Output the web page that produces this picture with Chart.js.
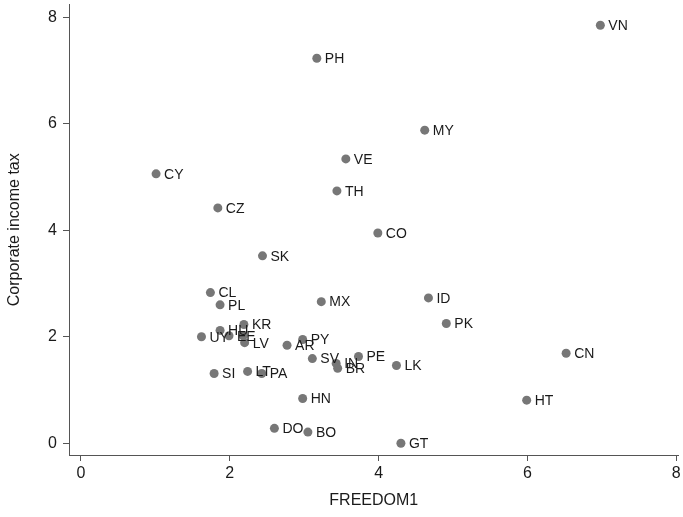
<!DOCTYPE html>
<html>
<head>
<meta charset="utf-8">
<script src="https://cdn.jsdelivr.net/npm/chart.js@4/dist/chart.umd.min.js"></script>
<style>
html,body{margin:0;padding:0;background:#fff;}
#wrap{width:683px;height:517px;position:relative;}
</style>
</head>
<body>
<div id="wrap"><canvas id="c" width="683" height="517"></canvas></div>
<script>
const countries = ["VN","PH","MY","VE","CY","TH","CZ","CO","SK","CL","PL","MX","ID","PK","KR","HU","EE","","UY","LV","PY","AR","SV","IN","BR","PE","LK","CN","HT","LT","PA","SI","HN","DO","BO","GT"];
const freedom1 = [6.98,3.17,4.62,3.56,1.01,3.44,1.84,3.99,2.44,1.74,1.87,3.23,4.67,4.91,2.19,1.87,1.99,2.18,1.62,2.20,2.98,2.77,3.11,3.43,3.45,3.73,4.24,6.52,5.99,2.24,2.43,1.79,2.98,2.60,3.05,4.30];
const corpTax = [7.85,7.23,5.88,5.34,5.06,4.74,4.42,3.95,3.52,2.83,2.60,2.66,2.73,2.25,2.23,2.12,2.02,2.02,2.00,1.89,1.95,1.84,1.59,1.50,1.41,1.63,1.46,1.69,0.81,1.35,1.31,1.31,0.84,0.28,0.21,0.00];
const xTicks = [0,2,4,6,8];
const yTicks = [0,2,4,6,8];

const points = freedom1.map((v,i)=>({x:v,y:corpTax[i]}));
const FONT = "'Liberation Sans', Arial, Helvetica, sans-serif";

const labelPlugin = {
  id:'pointLabels',
  afterDatasetsDraw(chart){
    const ctx = chart.ctx;
    const meta = chart.getDatasetMeta(0);
    ctx.save();
    ctx.font = "14px " + FONT;
    ctx.fillStyle = "#1a1a1a";
    ctx.textAlign = "left";
    ctx.textBaseline = "middle";
    meta.data.forEach((el,i)=>{
      if(!countries[i]) return;
      ctx.fillText(countries[i], el.x + 8, el.y + 1);
    });
    ctx.restore();
  }
};

new Chart(document.getElementById('c'),{
  type:'scatter',
  data:{datasets:[{
    data:points,
    backgroundColor:'#777777',
    borderColor:'#777777',
    borderWidth:0,
    pointRadius:4.5,
    pointHoverRadius:4.5
  }]},
  options:{
    responsive:false,
    animation:false,
    events:[],
    layout:{padding:{top:3,right:0,left:0,bottom:0}},
    plugins:{legend:{display:false},tooltip:{enabled:false}},
    scales:{
      x:{
        type:'linear',
        min:-0.16,max:8.03,
        afterBuildTicks(s){ s.ticks = xTicks.map(v=>({value:v})); },
        afterFit(s){ s.height = 62; s.paddingLeft = 0; s.paddingRight = 0; },
        border:{display:true,color:'#555',width:1},
        grid:{display:true,drawOnChartArea:false,drawTicks:true,tickLength:6,color:'#555'},
        ticks:{color:'#1a1a1a',font:{family:FONT,size:16},padding:3,maxRotation:0},
        title:{display:true,text:'FREEDOM1',color:'#1a1a1a',font:{family:FONT,size:16},padding:{top:7,bottom:7}}
      },
      y:{
        type:'linear',
        min:-0.22,max:8.24,
        afterBuildTicks(s){ s.ticks = yTicks.map(v=>({value:v})); },
        afterFit(s){ s.width = 69; s.paddingTop = 0; s.paddingBottom = 0; },
        border:{display:true,color:'#555',width:1},
        grid:{display:true,drawOnChartArea:false,drawTicks:true,tickLength:6,color:'#555'},
        ticks:{color:'#1a1a1a',font:{family:FONT,size:16},padding:6},
        title:{display:true,text:'Corporate income tax',color:'#1a1a1a',font:{family:FONT,size:16},padding:{top:5,bottom:5}}
      }
    }
  },
  plugins:[labelPlugin]
});
</script>
</body>
</html>
